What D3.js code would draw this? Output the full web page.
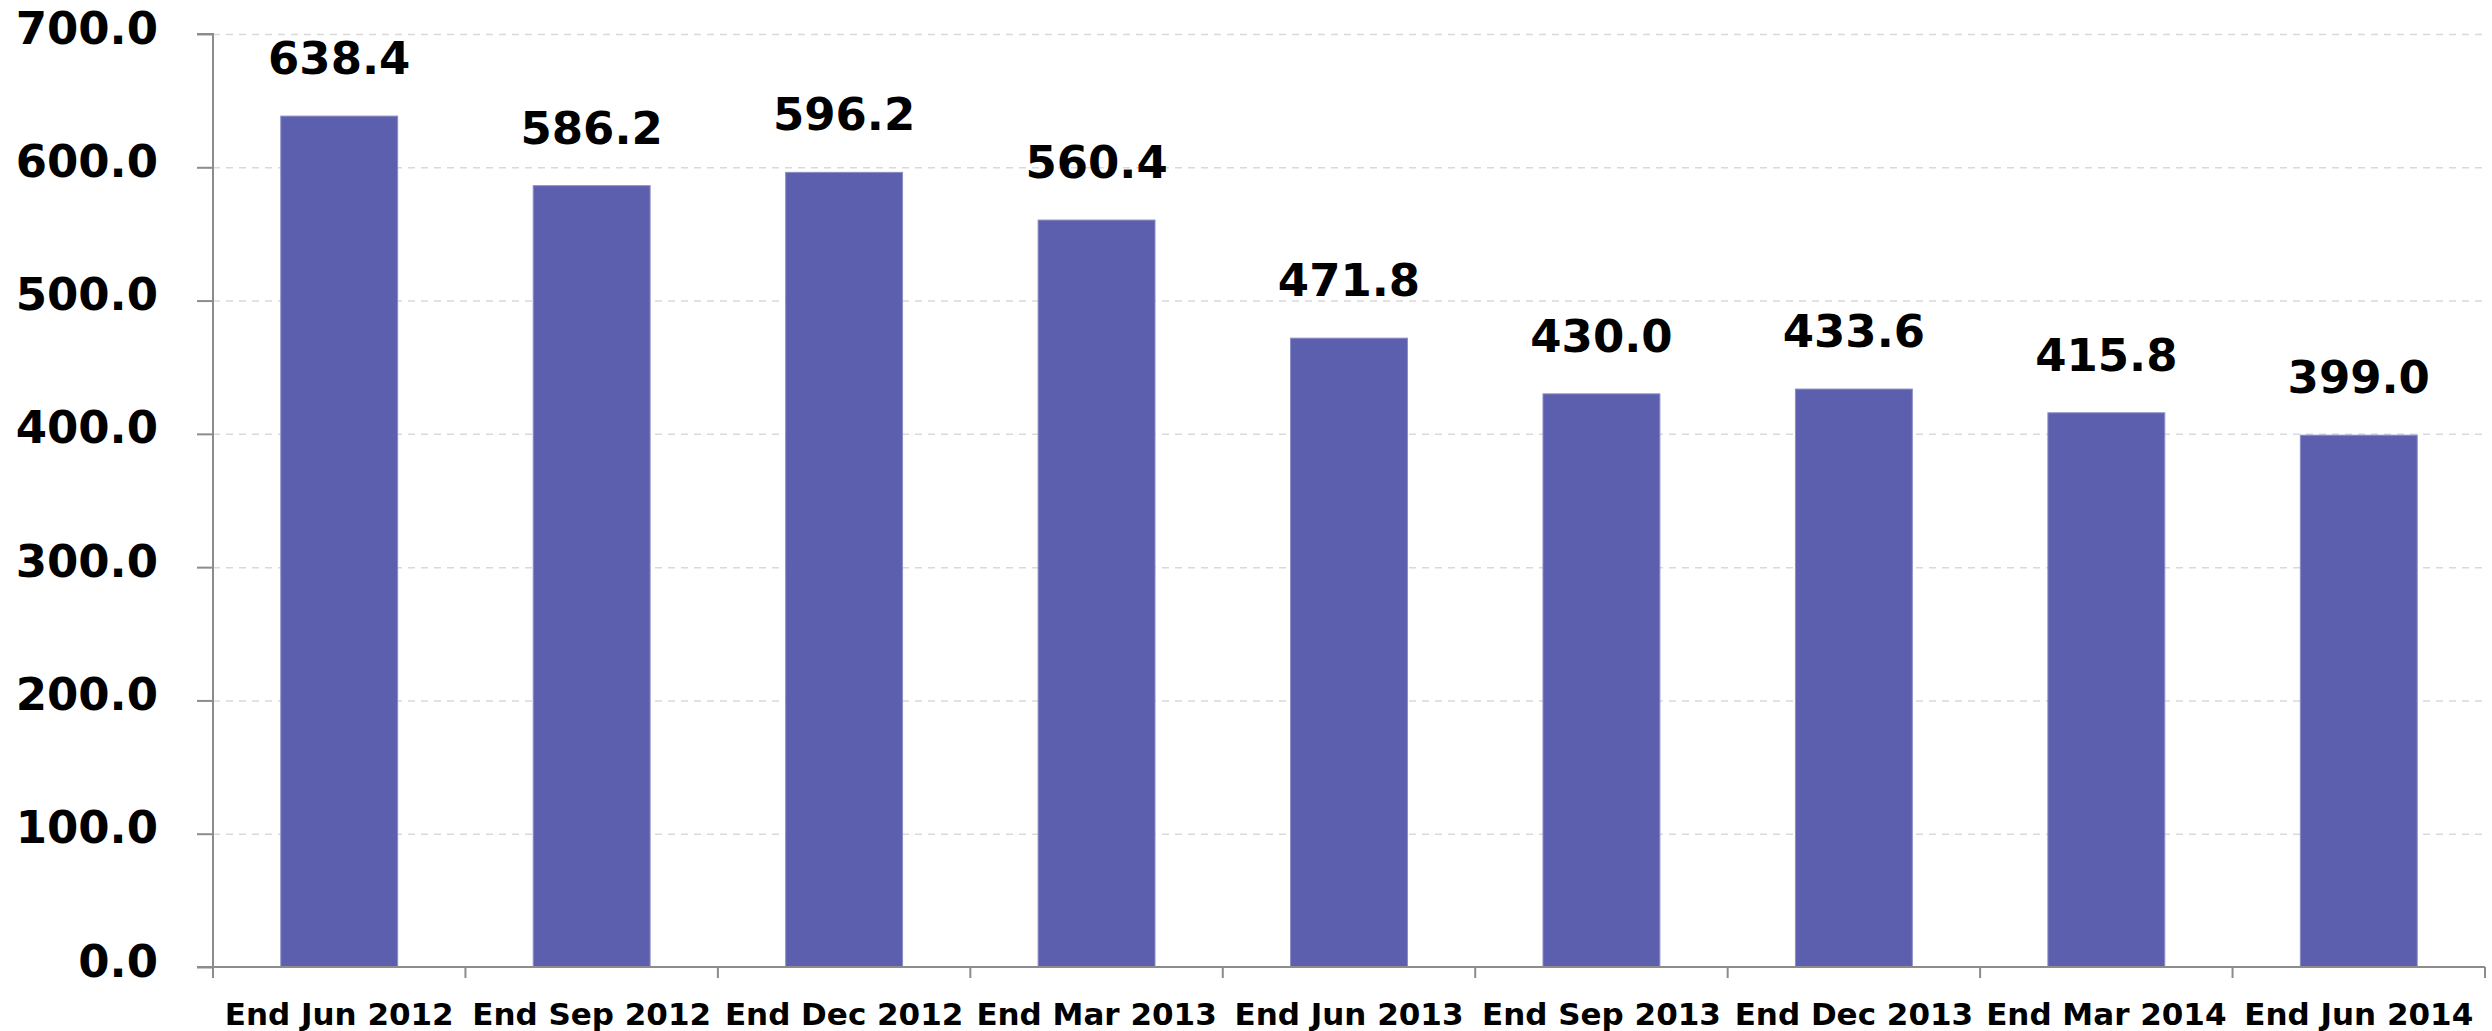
<!DOCTYPE html>
<html><head><meta charset="utf-8">
<script src="https://cdn.jsdelivr.net/npm/d3@7"></script>
<style>
html,body{margin:0;padding:0;background:#fff;}
svg{display:block;}
text{font-family:"DejaVu Sans",Verdana,sans-serif;font-weight:bold;fill:#000;}
</style></head>
<body><svg id="chart" width="2492" height="1031"></svg>
<script>
const categories = ["End Jun 2012","End Sep 2012","End Dec 2012","End Mar 2013","End Jun 2013","End Sep 2013","End Dec 2013","End Mar 2014","End Jun 2014"];
const values = [638.4, 586.2, 596.2, 560.4, 471.8, 430.0, 433.6, 415.8, 399.0];
const yTicks = [0, 100, 200, 300, 400, 500, 600, 700];

(function () {
const svg = d3.select("#chart");
const mLeft = 213, mRight = 2485, mTop = 34, mBottom = 967;

const x = d3.scaleBand().domain(categories).range([mLeft, mRight]).paddingInner(0.537).paddingOuter(0.2685);
const y = d3.scaleLinear().domain([0, 700]).range([mBottom, mTop]);

// gridlines
svg.append("g").selectAll("line").data(yTicks.filter(d => d > 0)).join("line")
  .attr("x1", mLeft).attr("x2", mRight)
  .attr("y1", d => y(d) + 0.5).attr("y2", d => y(d) + 0.5)
  .attr("stroke", "#d9d9d9").attr("stroke-width", 1.5).attr("stroke-dasharray", "7,6");

// bars
svg.append("g").selectAll("rect").data(values).join("rect")
  .attr("x", (d, i) => x(categories[i]))
  .attr("width", x.bandwidth())
  .attr("y", d => y(d))
  .attr("height", d => y(0) - y(d))
  .attr("fill", "#5b5fae")
  .attr("stroke", "#8a8dc4").attr("stroke-width", 1);

// y axis
const yAxis = d3.axisLeft(y).tickValues(yTicks).tickSize(16).tickPadding(39).tickFormat(d3.format(".1f"));
const gy = svg.append("g").attr("transform", `translate(${mLeft},0)`).call(yAxis);
gy.select(".domain").attr("stroke", "#8c8c8c").attr("stroke-width", 2).attr("d", `M-16,${mBottom}H0V${mTop}H-16`);
gy.selectAll(".tick line").attr("stroke", "#8c8c8c").attr("stroke-width", 2);
gy.selectAll(".tick text").attr("font-size", 45).attr("dy", "0.2em")
  .style("font-family", '"DejaVu Sans",Verdana,sans-serif').style("font-weight", "bold").attr("fill", "#000");

// x axis
const xEdges = d3.scaleLinear().domain([0, categories.length]).range([mLeft, mRight]);
const gx = svg.append("g");
gx.append("line").attr("x1", mLeft - 16).attr("x2", mRight).attr("y1", mBottom).attr("y2", mBottom)
  .attr("stroke", "#8c8c8c").attr("stroke-width", 2);
gx.selectAll("line.t").data(d3.range(categories.length + 1)).join("line").attr("class", "t")
  .attr("x1", d => xEdges(d)).attr("x2", d => xEdges(d))
  .attr("y1", mBottom).attr("y2", mBottom + 11)
  .attr("stroke", "#8c8c8c").attr("stroke-width", 2);
gx.selectAll("text").data(categories).join("text")
  .attr("x", d => x(d) + x.bandwidth() / 2)
  .attr("y", 1025)
  .attr("text-anchor", "middle")
  .attr("font-size", 31)
  .text(d => d);

// data labels
svg.append("g").selectAll("text").data(values).join("text")
  .attr("x", (d, i) => x(categories[i]) + x.bandwidth() / 2)
  .attr("y", d => y(d) - 42)
  .attr("text-anchor", "middle")
  .attr("font-size", 45)
  .text(d => d3.format(".1f")(d));
})();
</script>
</body></html>
